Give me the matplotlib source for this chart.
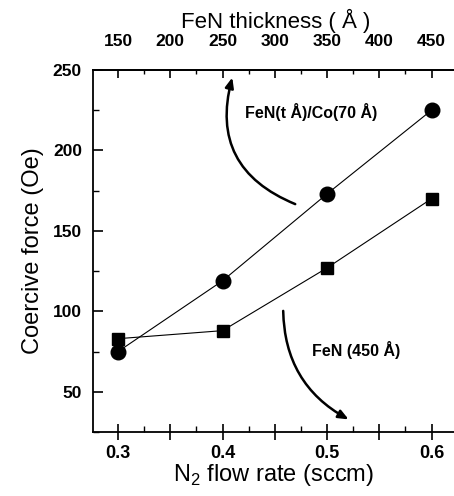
import matplotlib
matplotlib.use("Agg")
import matplotlib.pyplot as plt
from matplotlib.patches import FancyArrowPatch
from matplotlib.ticker import MultipleLocator

plt.rcParams['font.family'] = ['Liberation Sans', 'DejaVu Sans']
plt.rcParams['mathtext.fontset'] = 'custom'
plt.rcParams['mathtext.rm'] = 'Liberation Sans'

flow_rate = [0.3, 0.4, 0.5, 0.6]
bilayer_hc = [75, 119, 173, 225]     # FeN(t Å)/Co(70 Å), circles
single_hc = [83, 88, 127, 170]       # FeN (450 Å), squares
top_ticks = [150, 200, 250, 300, 350, 400, 450]

fig = plt.figure(figsize=(4.54, 4.96), dpi=100)
ax = fig.add_axes([93/454, 1-432/496, 361/454, 362/496])

ax.plot(flow_rate, bilayer_hc, '-', color='black', lw=0.8, marker='o', ms=10.5, mfc='black', mec='black')
ax.plot(flow_rate, single_hc, '-', color='black', lw=0.8, marker='s', ms=8, mfc='black', mec='black')

ax.set_xlim(0.276, 0.6215)
ax.set_ylim(25, 250)
ax.spines['right'].set_visible(False)
for s in ['left', 'top', 'bottom']:
    ax.spines[s].set_linewidth(1.3)

ax.set_xticks([0.3, 0.35, 0.4, 0.45, 0.5, 0.55, 0.6])
ax.set_xticklabels(['0.3', '', '0.4', '', '0.5', '', '0.6'])
ax.xaxis.set_minor_locator(MultipleLocator(0.025))
ax.yaxis.set_minor_locator(MultipleLocator(25))
ax.tick_params(axis='x', which='major', direction='inout', length=12, width=1.2, labelsize=13, pad=3)
ax.tick_params(axis='x', which='minor', direction='in', length=4, width=1.0)
ax.tick_params(axis='y', which='major', direction='in', length=7, width=1.2, labelsize=12.5, pad=8)
ax.tick_params(axis='y', which='minor', direction='in', length=4, width=1.0)
ax.tick_params(axis='y', which='both', right=False)
ax.tick_params(axis='x', which='both', top=False)
ax.set_yticks([50, 100, 150, 200, 250])
for lab in ax.get_xticklabels() + ax.get_yticklabels():
    lab.set_fontweight('bold')

ax.set_xlabel(r'N$_\mathregular{2}$ flow rate (sccm)', fontsize=17, labelpad=0)
ax.set_ylabel('Coercive force (Oe)', fontsize=17, labelpad=6)

def flow_to_t(x):
    return 150 + (x - 0.3) * 1000

def t_to_flow(t):
    return 0.3 + (t - 150) / 1000

sec = ax.secondary_xaxis('top', functions=(flow_to_t, t_to_flow))
sec.set_xticks(top_ticks)
sec.xaxis.set_minor_locator(MultipleLocator(25))
sec.tick_params(which='major', direction='in', length=6, width=1.2, labelsize=12.5, pad=15)
sec.tick_params(which='minor', direction='in', length=3, width=1.0)
sec.spines['top'].set_linewidth(1.3)
for lab in sec.get_xticklabels():
    lab.set_fontweight('bold')

fig.text(276/454, 1-21/496, 'FeN thickness ( Å )', fontsize=16, ha='center', va='center')

ax.text(0.421, 224, 'FeN(t Å)/Co(70 Å)', fontsize=11.5, fontweight='bold', ha='left', va='center')
ax.text(0.486, 76, 'FeN (450 Å)', fontsize=11.5, fontweight='bold', ha='left', va='center')

a1 = FancyArrowPatch((0.472, 166), (0.410, 247), connectionstyle='arc3,rad=-0.45',
                     arrowstyle='-|>,head_length=6,head_width=2.5', lw=1.8, color='black')
ax.add_patch(a1)
a2 = FancyArrowPatch((0.458, 102), (0.523, 32), connectionstyle='arc3,rad=0.3',
                     arrowstyle='-|>,head_length=6,head_width=2.5', lw=1.8, color='black')
ax.add_patch(a2)

fig.savefig('out.png', dpi=100)
